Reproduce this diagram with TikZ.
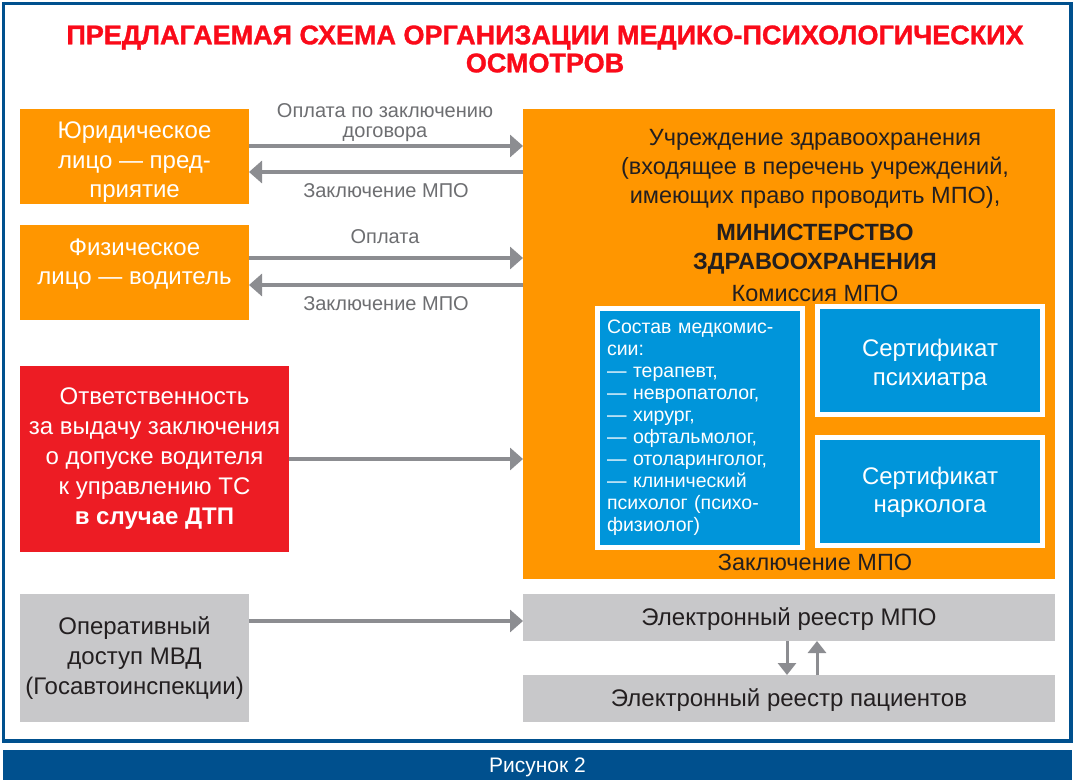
\documentclass[tikz,border=0pt]{standalone}
\usepackage{fontspec}
\setmainfont{Liberation Sans}
\newfontfamily\titlefont[FakeBold=1.2]{Liberation Sans Bold}
\usetikzlibrary{arrows.meta,calc}
\definecolor{myorange}{RGB}{255,150,0}
\definecolor{myred}{RGB}{237,28,36}
\definecolor{titlered}{RGB}{250,10,25}
\definecolor{mygrey}{RGB}{200,200,202}
\definecolor{arrgrey}{RGB}{140,141,145}
\definecolor{lblgrey}{RGB}{109,110,113}
\definecolor{myblue}{RGB}{0,149,218}
\definecolor{frameblue}{RGB}{0,80,142}
\definecolor{darktext}{RGB}{35,31,32}
\newcommand\myfs[2]{\fontsize{#1}{#2}\selectfont}
\tikzset{
  box/.style={inner sep=0pt, outer sep=0pt, align=center},
  obox/.style={box, fill=myorange},
  wtext/.style={inner sep=0pt, text=white, align=center, font=\myfs{24}{29.5}},
  gbox/.style={box, fill=mygrey, text=darktext, font=\myfs{24}{30}},
  bbox/.style={box, fill=myblue, draw=white, line width=5pt, text=white},
  arr/.style={draw=arrgrey, line width=3.5pt, -{Triangle[length=13pt,width=22pt]}},
  arrs/.style={draw=arrgrey, line width=3pt, -{Triangle[length=12pt,width=18pt]}},
  lbl/.style={inner sep=0pt, text=lblgrey, font=\myfs{20}{20}, align=center},
  otext/.style={inner sep=0pt, text=darktext, align=center},
}
\begin{document}
\begin{tikzpicture}[x=1pt,y=-1pt]
\useasboundingbox (0,0) rectangle (1076,783);
\fill[white] (0,0) rectangle (1076,783);
% frame
\draw[frameblue, line width=3.5pt] (3.5,3.5) rectangle (1071,741);
\node[box, fill=frameblue, minimum width=1069, minimum height=30] (cap) at (537.5,765) {};
\node[inner sep=0pt, text=white, font=\myfs{21}{22}] (capT) at (537.5,767) {Рисунок 2};
% title
\node[inner sep=0pt, text=titlered, font=\titlefont\myfs{27}{28}, align=center] (title) at (545,49)
  {ПРЕДЛАГАЕМАЯ СХЕМА ОРГАНИЗАЦИИ МЕДИКО-ПСИХОЛОГИЧЕСКИХ\\ОСМОТРОВ};
% left boxes
\node[obox, minimum width=229, minimum height=95] (yur) at (134.5,156.5) {};
\node[wtext] (yurT) at ([yshift=-6pt]yur.center) {Юридическое\\лицо — пред-\\приятие};
\node[obox, minimum width=229, minimum height=95] (fiz) at (134.5,272.5) {};
\node[wtext] (fizT) at ([yshift=8.5pt]fiz.center) {Физическое\\лицо — водитель};
\node[box, fill=myred, text=white, font=\myfs{24}{30}, minimum width=269, minimum height=186] (resp) at (154.5,459)
  {Ответственность\\за выдачу заключения\\о допуске водителя\\к управлению ТС\\\textbf{в случае ДТП}};
\node[gbox, minimum width=229, minimum height=128] (oper) at (134.5,658) {Оперативный\\доступ МВД\\(Госавтоинспекции)};
% big orange
\node[box, fill=myorange, minimum width=532, minimum height=470] (org) at (789,344) {};
\node[otext, font=\myfs{23.5}{29}] (orgA) at (815,168.5) {Учреждение здравоохранения\\(входящее в перечень учреждений,\\имеющих право проводить МПО),};
\node[otext, font=\bfseries\myfs{23.5}{29.5}] (orgB) at (815,249) {МИНИСТЕРСТВО\\ЗДРАВООХРАНЕНИЯ};
\node[otext, font=\myfs{23.5}{29}] (orgC) at (815,293) {Комиссия МПО};
\node[otext, font=\myfs{23.5}{29}] (orgD) at (815,562) {Заключение МПО};
% blue boxes
\node[bbox, minimum width=205, minimum height=239, text width=186, align=left, font=\myfs{19.5}{22}] (sostav) at (700,428)
  {Состав медкомис-\\сии:\\— терапевт,\\— невропатолог,\\— хирург,\\— офтальмолог,\\— отоларинголог,\\— клинический\\психолог (психо-\\физиолог)};
\node[bbox, minimum width=225, minimum height=108] (cert1) at (930,360.5) {};
\node[wtext, font=\myfs{24}{29}] (cert1T) at ([yshift=-4pt]cert1.center) {Сертификат\\психиатра};
\node[bbox, minimum width=225, minimum height=108] (cert2) at (930,491.5) {};
\node[wtext, font=\myfs{24}{28.5}] (cert2T) at ([yshift=-1pt]cert2.center) {Сертификат\\нарколога};
% registries
\node[gbox, minimum width=532, minimum height=47] (reg1) at (789,617.5) {};
\node[otext, font=\myfs{24}{30}] (reg1T) at ([yshift=-2pt]reg1.center) {Электронный реестр МПО};
\node[gbox, minimum width=532, minimum height=47] (reg2) at (789,698.5) {};
\node[otext, font=\myfs{24}{30}] (reg2T) at ([yshift=-2pt]reg2.center) {Электронный реестр пациентов};
% arrows
\coordinate (a1) at ([yshift=10.5pt]yur.east);
\coordinate (a2) at ([yshift=-15.5pt]yur.east);
\coordinate (a3) at ([yshift=14.5pt]fiz.east);
\coordinate (a4) at ([yshift=-12.5pt]fiz.east);
\coordinate (a5) at ([yshift=37pt]oper.east);
\draw[arr] (a1) -- (a1 -| org.west);
\draw[arr] (a2 -| org.west) -- (a2);
\draw[arr] (a3) -- (a3 -| org.west);
\draw[arr] (a4 -| org.west) -- (a4);
\draw[arr] (resp.east) -- (resp.east -| org.west);
\draw[arr] (a5) -- (a5 -| reg1.west);
\coordinate (d1) at ([xshift=-2pt]reg1.south);
\coordinate (u1) at ([xshift=28pt]reg2.north);
\draw[arrs] (d1) -- (d1 |- reg2.north);
\draw[arrs] (u1) -- (u1 |- reg1.south);
% labels
\node[lbl] (l1) at (385,123) {Оплата по заключению\\договора};
\node[lbl] (l2) at (386,191) {Заключение МПО};
\node[lbl] (l3) at (385,237) {Оплата};
\node[lbl] (l4) at (386,304) {Заключение МПО};
\end{tikzpicture}
\end{document}
